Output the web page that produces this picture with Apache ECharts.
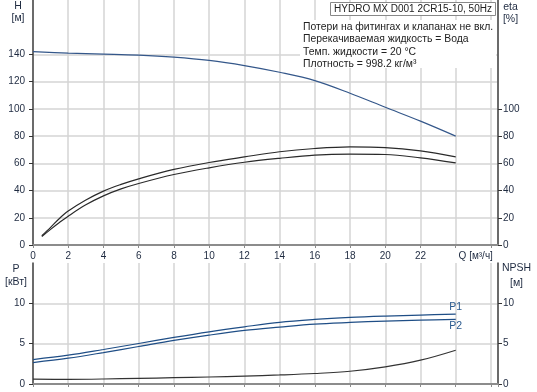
<!DOCTYPE html>
<html><head><meta charset="utf-8">
<script src="https://cdn.jsdelivr.net/npm/echarts@6/dist/echarts.min.js"></script>
<style>html,body{margin:0;padding:0;background:#fff}#c{width:537px;height:392px}</style>
</head><body><div id="c"></div>
<script>
const qH = [0,2,4,6,8,10,12,14,16,18,20,22,24];
const head = [142,141,140.3,139.5,138,135.6,131.8,126.9,120.8,111.5,101.2,91,80];
const qEta = [0.5,1,1.5,2,3,4,5,6,8,10,12,14,16,18,20,22,24];
const eta1 = [6.8,13,19.5,24.9,33,39.6,44.5,48.6,55.5,60.6,64.7,68.5,70.9,72.1,71.6,69.1,64.7];
const eta2 = [6.2,11.5,16.5,21.2,29.5,36.1,41.2,45.2,51.8,56.7,60.8,63.7,66,66.7,66.5,64,60.3];
const qP = [0,2,4,6,8,10,12,14,16,18,20,22,24];
const p1 = [3.03,3.57,4.28,5.02,5.77,6.47,7.09,7.65,8.0,8.25,8.42,8.55,8.67];
const p2 = [2.66,3.2,3.9,4.65,5.4,6.06,6.64,7.05,7.42,7.63,7.8,7.92,8.0];
const npsh = [0.6,0.58,0.62,0.7,0.78,0.87,0.98,1.12,1.3,1.58,2.12,2.95,4.19];
const hTicks = [0,20,40,60,80,100,120,140];
const etaTicks = [0,20,40,60,80,100];
const pTicks = [0,5,10];
const qLabel = 'Q [м³/ч]';
const title = 'HYDRO MX D001 2CR15-10, 50Hz';
const infoLines = ['Потери на фитингах и клапанах не вкл.','Перекачиваемая жидкость = Вода','Темп. жидкости = 20 °C','Плотность = 998.2 кг/м³'];

const FONT = '"Liberation Sans", Arial, sans-serif';
const TXT = '#1e2a40';
const chart = echarts.init(document.getElementById('c'), null, {renderer:'canvas'});
const zip = (xs, ys) => xs.map((x,i)=>[x, ys[i]]);
const grid = '#d4d4d4';
const lab = {color:TXT, fontSize:10, fontFamily:FONT};
function xAxis(gi, showLabels){
  return {type:'value', gridIndex:gi, min:0, max:26.4, interval:2,
    axisLine:{show:true, onZero:false, lineStyle:{color:'#8c8c8c', width:2}},
    axisTick:{show:true, length:3, lineStyle:{color:'#8c8c8c'}},
    axisLabel:{show:showLabels, ...lab, margin:6, showMaxLabel:false,
      formatter:v=> v===24 ? '{q|'+qLabel+'}' : (v>24 ? '' : String(v)),
      rich:{q:{fontSize:10, fontFamily:FONT, color:TXT, padding:[0,0,0,40]}}},
    splitLine:{show:true, lineStyle:{color:grid, width:1.5}}};
}
function yAxis(gi, pos, max, interval, ticks, split){
  return {type:'value', gridIndex:gi, position:pos, min:0, max:max, interval:interval,
    axisLine:{show:true, lineStyle:{color:'#444', width:1.5}},
    axisTick:{show:true, length:4, customValues:ticks, lineStyle:{color:'#333'}},
    axisLabel:{show:true, ...lab, margin: pos==='left' ? 8 : 5, customValues:ticks},
    splitLine:{show:split, lineStyle:{color:grid, width:1.5}}};
}
function line(xi, yi, data, color, extra){
  return Object.assign({type:'line', xAxisIndex:xi, yAxisIndex:yi, data:data, smooth:0.35,
    showSymbol:false, symbol:'none', lineStyle:{color:color, width:1.2}, animation:false, z:5}, extra||{});
}
const endLab = (txt,pos)=>({show:true, position:pos, distance:1, formatter:txt, color:'#2a5a8e', fontSize:10.5, fontFamily:FONT});
const p1Data = zip(qP,p1); p1Data[p1Data.length-1] = {value:p1Data[p1Data.length-1], label:endLab('P1','top')};
const p2Data = zip(qP,p2); p2Data[p2Data.length-1] = {value:p2Data[p2Data.length-1], label:endLab('P2','bottom')};

const txt = (x,y,t,align,size,color)=>({type:'text', x:x, y:y, z:100, style:{text:t, fill:color||TXT, font:(size||10.5)+'px '+FONT, textAlign:align||'center', textVerticalAlign:'middle'}});

chart.setOption({
  animation:false,
  backgroundColor:'#fff',
  grid:[{left:33, right:39, top:0, height:245}, {left:33, right:39, top:263, height:121}],
  xAxis:[xAxis(0,true), xAxis(1,false)],
  yAxis:[yAxis(0,'left',180,20,hTicks,true), yAxis(0,'right',180,20,etaTicks,false),
         yAxis(1,'left',15,5,pTicks,true), yAxis(1,'right',15,5,pTicks,false)],
  series:[
    line(0,0,zip(qH,head),'#34578a'),
    line(0,1,zip(qEta,eta1),'#2a2a2a'),
    line(0,1,zip(qEta,eta2),'#2a2a2a'),
    line(1,2,p1Data,'#1f4e86',{showSymbol:true, symbol:'circle', symbolSize:0}),
    line(1,2,p2Data,'#1f4e86',{showSymbol:true, symbol:'circle', symbolSize:0}),
    line(1,3,zip(qP,npsh),'#333')
  ],
  graphic:[
    {type:'rect', z:50, shape:{x:300, y:20, width:196, height:48}, style:{fill:'#fff'}},
    {type:'rect', z:50, shape:{x:330.5, y:2.5, width:165, height:13}, style:{fill:'#fff', stroke:'#888', lineWidth:1}},
    txt(413,9.5,title,'center',10,'#222'),
    txt(303,27,infoLines[0],'left',10.4,'#222'),
    txt(303,39.5,infoLines[1],'left',10.4,'#222'),
    txt(303,52,infoLines[2],'left',10.4,'#222'),
    txt(303,64,infoLines[3],'left',10.4,'#222'),
    txt(18,6,'H'), txt(18,18,'[м]'),
    txt(510.5,7,'eta'), txt(510.5,19,'[%]'),
    txt(16,269,'P'), txt(16,282,'[кВт]'),
    txt(516.5,268,'NPSH'), txt(516.5,283,'[м]')
  ]
});
</script></body></html>
